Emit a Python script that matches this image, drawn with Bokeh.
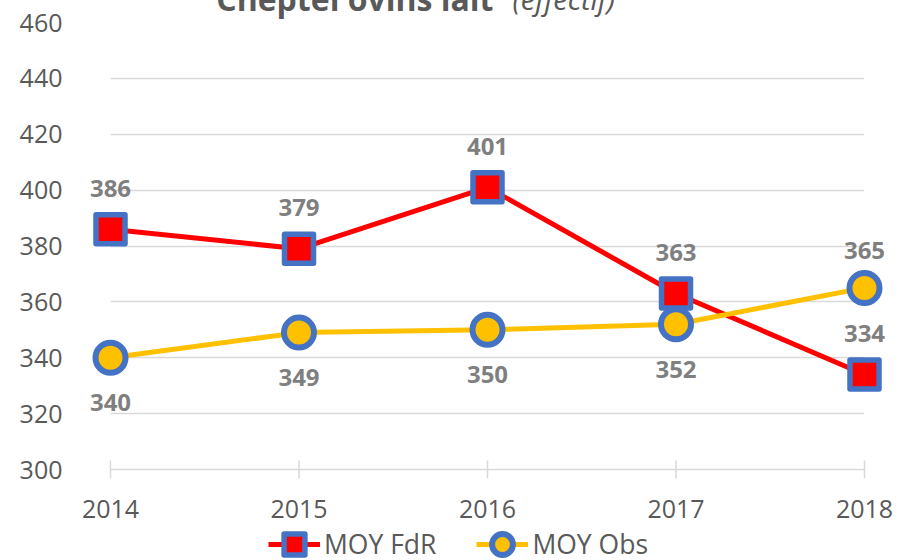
import math
from bokeh.plotting import figure
from bokeh.models import (ColumnDataSource, Range1d, FixedTicker, Legend, LegendItem)
from bokeh.core.properties import value
from bokeh.embed import file_html
from bokeh.resources import INLINE

# ---- data ----
years = [2014, 2015, 2016, 2017, 2018]
moy_fdr = [386, 379, 401, 363, 334]
moy_obs = [340, 349, 350, 352, 365]
y_ticks = [300, 320, 340, 360, 380, 400, 420, 440, 460]
series_names = ["MOY FdR", "MOY Obs"]
title_main = "Cheptel ovins lait"
title_sub = "(effectif)"

# ---- style ----
FONT = "Open Sans"
TXT = "#595959"
LBL = "#7F7F7F"
GRID = "#D9D9D9"
BLUE = "#4472C4"
RED = "#FF0000"
GOLD = "#FFC000"

W, H = 901, 560
TOP = 22          # space above the plot area
PLOT_H = 447      # height of the value band 300..460
# the frame runs to the bottom of the canvas so that the legend fits inside it
px_per_unit = PLOT_H / (y_ticks[-1] - y_ticks[0])
y_start = y_ticks[0] - (H - TOP - PLOT_H) / px_per_unit

p = figure(width=W, height=H, output_backend="svg", toolbar_location=None,
           x_range=Range1d(min(years), max(years)),
           y_range=Range1d(y_start, y_ticks[-1]),
           x_axis_location=None,
           min_border_left=110, min_border_right=37,
           min_border_top=TOP, min_border_bottom=0)
p.outline_line_color = None

# y axis
p.yaxis.ticker = FixedTicker(ticks=y_ticks)
p.yaxis.axis_line_color = None
p.yaxis.major_tick_line_color = None
p.yaxis.minor_tick_line_color = None
p.yaxis.major_tick_in = 0
p.yaxis.major_tick_out = 0
p.yaxis.major_label_standoff = 48
p.yaxis.major_label_text_font = FONT
p.yaxis.major_label_text_font_size = "25px"
p.yaxis.major_label_text_color = TXT

p.xgrid.grid_line_color = None
p.ygrid.ticker = FixedTicker(ticks=y_ticks)
p.ygrid.grid_line_color = GRID
p.ygrid.grid_line_width = 1.5

# category axis: ticks (crossing the base line) and year labels
base = ColumnDataSource(dict(x=years, y=[y_ticks[0]] * len(years),
                             t=[str(v) for v in years]))
p.scatter("x", "y", source=base, marker="dash", angle=math.pi / 2, size=18,
          line_color=GRID, line_width=1.5, level="overlay")
p.text("x", "y", text="t", source=base, y_offset=39, level="overlay",
       text_align="center", text_baseline="middle",
       text_font=value(FONT), text_font_size="25px", text_color=TXT)

# label placement: FdR above; Obs above only when it is the higher series
fdr_off = [-41 for _ in moy_fdr]
obs_off = [-37 if o > f else 45 for o, f in zip(moy_obs, moy_fdr)]

src_fdr = ColumnDataSource(dict(x=years, y=moy_fdr, t=[str(v) for v in moy_fdr], off=fdr_off))
src_obs = ColumnDataSource(dict(x=years, y=moy_obs, t=[str(v) for v in moy_obs], off=obs_off))

l1 = p.line("x", "y", source=src_fdr, line_color=RED, line_width=5, level="overlay")
s1 = p.scatter("x", "y", source=src_fdr, marker="square", size=29, fill_color=RED,
               line_color=BLUE, line_width=5.5, line_join="round", level="overlay")
l2 = p.line("x", "y", source=src_obs, line_color=GOLD, line_width=5, level="overlay")
s2 = p.scatter("x", "y", source=src_obs, marker="circle", size=30, fill_color=GOLD,
               line_color=BLUE, line_width=6, level="overlay")

for src in (src_fdr, src_obs):
    p.text("x", "y", text="t", source=src, y_offset="off", level="overlay",
           text_align="center", text_baseline="middle",
           text_font=value(FONT), text_font_size="24px", text_font_style="bold",
           text_color=LBL)

# title (clipped at the top edge, as in the reference)
x_mid = (years[0] + years[-1]) / 2
title_src = ColumnDataSource(dict(x=[x_mid], y=[y_ticks[-1]]))
p.text("x", "y", text=value(title_main), source=title_src, x_offset=6, y_offset=-24,
       level="overlay", text_align="right", text_baseline="alphabetic",
       text_font=value(FONT), text_font_size="32px", text_font_style="bold",
       text_color=TXT)
p.text("x", "y", text=value(title_sub), source=title_src, x_offset=25, y_offset=-24,
       level="overlay", text_align="left", text_baseline="alphabetic",
       text_font=value(FONT), text_font_size="29px", text_font_style="italic",
       text_color=TXT)

legend = Legend(items=[LegendItem(label=series_names[0], renderers=[l1, s1]),
                       LegendItem(label=series_names[1], renderers=[l2, s2])],
                location=(158, -11), orientation="horizontal",
                glyph_width=52, glyph_height=54, label_standoff=4, spacing=40,
                padding=0, margin=0,
                label_text_font=FONT, label_text_font_size="26.5px",
                label_text_color=TXT,
                border_line_color=None, background_fill_alpha=0)
p.add_layout(legend)

open("out.html", "w").write(file_html(p, INLINE))
